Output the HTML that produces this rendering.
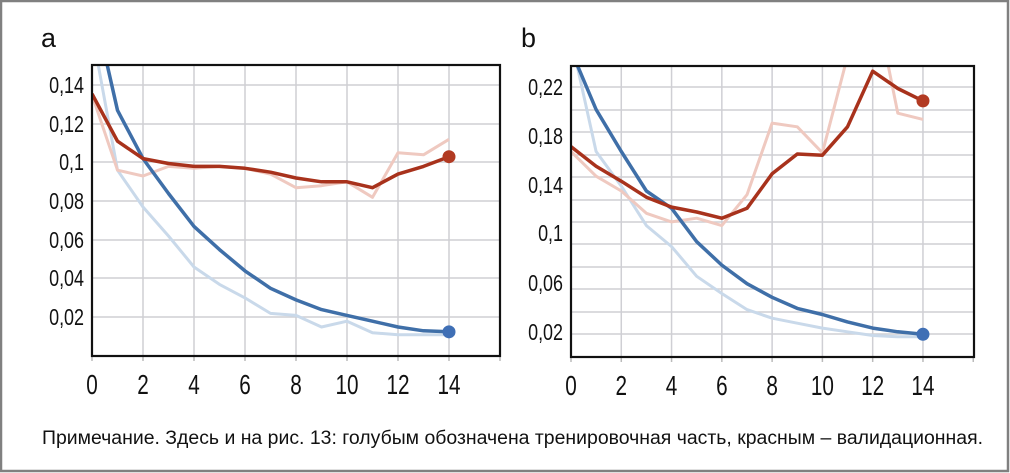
<!DOCTYPE html>
<html><head><meta charset="utf-8"><style>
html,body{margin:0;padding:0;background:#fff}
svg{display:block}
text{font-family:"Liberation Sans",sans-serif;fill:#111}
</style></head><body>
<svg id="s" width="1010" height="473" viewBox="0 0 1010 473" xmlns="http://www.w3.org/2000/svg">
<rect x="1" y="1" width="1007" height="470" fill="#fff" stroke="#808080" stroke-width="2.5"/>
<defs>
<clipPath id="ca"><rect x="92" y="65" width="408" height="291"/></clipPath>
<clipPath id="cb"><rect x="571" y="66" width="403" height="291"/></clipPath>
</defs>
<text x="41" y="47" font-size="27" textLength="15" lengthAdjust="spacingAndGlyphs">a</text>
<text x="521" y="47" font-size="27" textLength="15" lengthAdjust="spacingAndGlyphs">b</text>
<g id="ga"></g><g id="gb"></g>
<text x="42" y="444" font-size="19" textLength="941" lengthAdjust="spacingAndGlyphs">Примечание. Здесь и на рис. 13: голубым обозначена тренировочная часть, красным – валидационная.</text>
</svg>
<script>
var NS="http://www.w3.org/2000/svg",s=document.getElementById('s');
function el(p,t,a,txt){var e=document.createElementNS(NS,t);for(var k in a)e.setAttribute(k,a[k]);if(txt!=null)e.textContent=txt;p.appendChild(e);return e;}
function panel(g,X0,X1,Y0,Y1,dx,Yf,hgrid,ylabels,clip,series,last){
 var G=document.getElementById(g);
 for(var i=2;i<=14;i+=2){var x=X0+dx*i;el(G,'line',{x1:x,x2:x,y1:Y0,y2:Y1,stroke:'#cfcfd4','stroke-width':1.5});}
 hgrid.forEach(function(y){el(G,'line',{x1:X0,x2:X1,y1:y,y2:y,stroke:'#cfcfd4','stroke-width':1.5});});
 for(var i=0;i<=16;i+=2){var x=X0+dx*i;if(x<=X1+1)el(G,'line',{x1:x,x2:x,y1:Y1,y2:Y1+5,stroke:'#bbb','stroke-width':1.5});
  if(i<=14)el(G,'text',{x:x,y:Y1+38,'font-size':28,'text-anchor':'middle',transform:'translate('+x+' 0) scale(0.74 1) translate('+(-x)+' 0)'},String(i));}
 ylabels.forEach(function(l){var x=X0-8;el(G,'text',{x:x,y:l[1]+8,'font-size':23,'text-anchor':'end',transform:'translate('+x+' 0) scale(0.78 1) translate('+(-x)+' 0)'},l[0]);});
 var C=el(G,'g',{'clip-path':'url(#'+clip+')'});
 series.forEach(function(sr){var d=sr.v.map(function(v,i){return (i?'L':'M')+(X0+dx*i).toFixed(1)+' '+Yf(v).toFixed(1);}).join(' ');
  el(C,'path',{d:d,fill:'none',stroke:sr.c,'stroke-width':sr.w,'stroke-linejoin':'round'});});
 last.forEach(function(l){el(G,'circle',{cx:X0+dx*14,cy:Yf(l[0]),r:6.5,fill:l[1]});});
 el(G,'rect',{x:X0,y:Y0,width:X1-X0,height:Y1-Y0,fill:'none',stroke:'#111','stroke-width':2.2});
}
var Ya=function(v){return 356-1935*v;};
panel('ga',92,500,65,356,25.5,Ya,[85,124,162,201,240,278,317],
 [['0,14',85],['0,12',124],['0,1',162],['0,08',201],['0,06',240],['0,04',278],['0,02',317]],'ca',
 [{c:'#c9d9ea',w:3,v:[0.168,0.096,0.077,0.062,0.046,0.037,0.030,0.022,0.021,0.015,0.018,0.012,0.011,0.011,0.011]},
  {c:'#efc9c0',w:3,v:[0.135,0.096,0.093,0.098,0.097,0.098,0.097,0.094,0.087,0.088,0.090,0.082,0.105,0.104,0.112]},
  {c:'#3f6fa8',w:3.5,v:[0.185,0.127,0.102,0.084,0.067,0.055,0.044,0.035,0.029,0.024,0.021,0.018,0.015,0.013,0.0125]},
  {c:'#a8321c',w:3.5,v:[0.1355,0.111,0.102,0.0995,0.098,0.098,0.097,0.095,0.092,0.090,0.090,0.087,0.094,0.098,0.103]}],
 [[0.0125,'#3f6fb5'],[0.103,'#b23a22']]);
var Yb=function(v){return 334.3-(v-0.02)*1235;};
panel('gb',571,974,66,357,25.14,Yb,[87,110,132,155,177,200,222,244,267,289,312,334],
 [['0,22',87],['0,18',136],['0,14',185],['0,1',233],['0,06',283],['0,02',332]],'cb',
 [{c:'#c9d9ea',w:3,v:[0.26,0.168,0.14,0.108,0.091,0.067,0.053,0.040,0.033,0.029,0.025,0.022,0.019,0.018,0.018]},
  {c:'#efc9c0',w:3,v:[0.168,0.148,0.136,0.118,0.111,0.114,0.108,0.133,0.191,0.188,0.167,0.245,0.30,0.199,0.194]},
  {c:'#3f6fa8',w:3.5,v:[0.25,0.202,0.168,0.136,0.122,0.095,0.076,0.061,0.050,0.041,0.036,0.030,0.025,0.022,0.020]},
  {c:'#a8321c',w:3.5,v:[0.172,0.156,0.144,0.131,0.123,0.119,0.114,0.122,0.150,0.166,0.165,0.188,0.233,0.219,0.209]}],
 [[0.020,'#3f6fb5'],[0.209,'#b23a22']]);
</script>
</body></html>
